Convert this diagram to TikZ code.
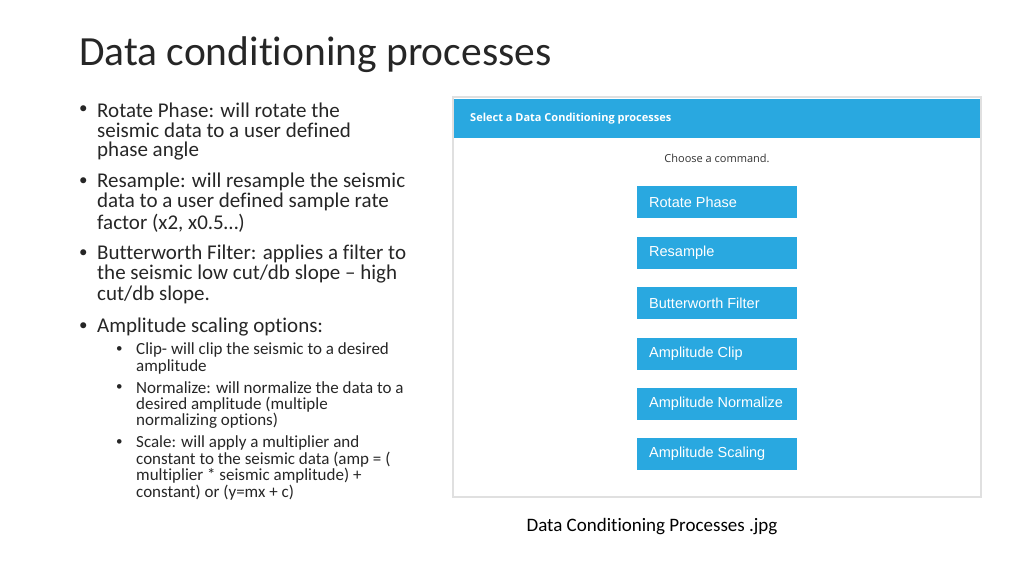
\documentclass[tikz,border=0pt]{standalone}
\usepackage{fontspec}
\setmainfont{Carlito}[Ligatures=NoCommon]
\newfontfamily\uifont{Liberation Sans}
\newfontfamily\hdfont{Open Sans}
\definecolor{uiblue}{HTML}{29A8E0}
\definecolor{txt}{HTML}{262626}
\begin{document}
\begin{tikzpicture}[x=1pt,y=-1pt,
  ln/.style={anchor=west,inner sep=0,text=txt,font=\fontsize{21}{23}\selectfont},
  sln/.style={anchor=west,inner sep=0,text=txt,font=\fontsize{17}{19}\selectfont},
  btn/.style={fill=uiblue,minimum width=160,minimum height=32,anchor=north west,inner sep=0},
  btxt/.style={anchor=west,inner sep=0,text=white,font=\uifont\fontsize{14.5}{16}\selectfont}]
\useasboundingbox (0,0) rectangle (1024,576);
\node[anchor=west,inner sep=0,text=txt,font=\fontsize{41.5}{44}\selectfont] (title) at (79,55) {Data conditioning processes};
% main bullets
\foreach \y/\t [count=\i] in {110/{Rotate Phase: will rotate the},182/{Resample: will resample the seismic},254/{Butterworth Filter: applies a filter to},327/{Amplitude scaling options:}}
  {\node[ln,font=\fontsize{17}{19}\selectfont] (b\i) at (79,\y) {•}; \node[ln] (bt\i) at (97,\y) {\t};}
\foreach \y/\t [count=\i] in {130/{seismic data to a user defined},151/{phase angle},202/{data to a user defined sample rate},223/{factor (x2, x0.5…)},274/{the seismic low cut/db slope – high},295/{cut/db slope.}}
  {\node[ln] (c\i) at (97,\y) {\t};}
% sub bullets
\foreach \y/\t [count=\i] in {350/{Clip- will clip the seismic to a desired},388/{Normalize: will normalize the data to a},443/{Scale: will apply a multiplier and}}
  {\node[sln,font=\fontsize{13}{15}\selectfont] (s\i) at (116,\y) {•}; \node[sln] (st\i) at (136,\y) {\t};}
\foreach \y/\t [count=\i] in {367/{amplitude},405/{desired amplitude (multiple},421/{normalizing options)},460/{constant to the seismic data (amp = (},476/{multiplier * seismic amplitude) +},493/{constant) or (y=mx + c)}}
  {\node[sln] (d\i) at (136,\y) {\t};}
% panel
\draw[draw=black!12,line width=1.5,fill=white] (453,97) rectangle (981,497);
\fill[uiblue] (454,99) rectangle (980,138);
\node[anchor=west,inner sep=0,text=white,font=\hdfont\bfseries\fontsize{11}{13}\selectfont] (hdr) at (470,119) {Select a Data Conditioning processes};
\node[inner sep=0,text=black!80,font=\hdfont\fontsize{11}{13}\selectfont] (choose) at (717,158) {Choose a command.};
\foreach \y/\t [count=\i] in {186/{Rotate Phase},237/{Resample},287/{Butterworth Filter},338/{Amplitude Clip},388/{Amplitude Normalize},438/{Amplitude Scaling}}
  {\node[btn] (btn\i) at (637,\y) {}; \node[btxt] (bl\i) at ([xshift=12]btn\i.west) {\t};}
\node[inner sep=0,text=black,font=\fontsize{19}{21}\selectfont] (cap) at (652,527) {Data Conditioning Processes .jpg};
\end{tikzpicture}
\end{document}
